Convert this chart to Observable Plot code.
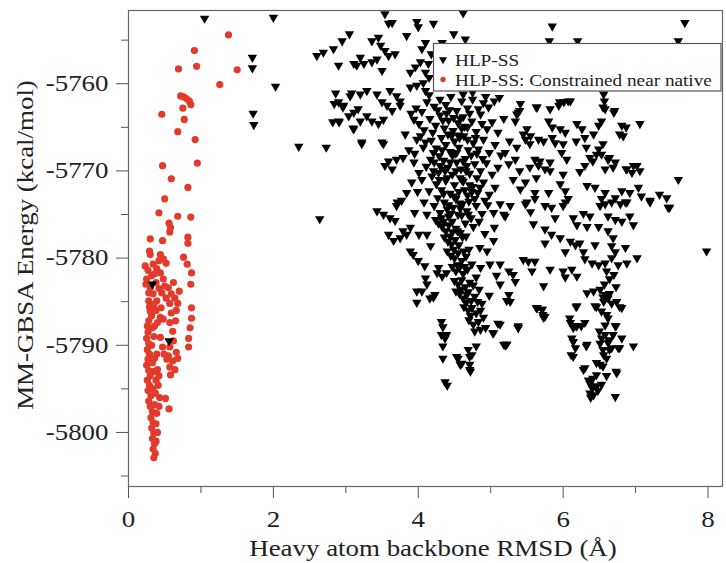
<!DOCTYPE html>
<html><head><meta charset="utf-8">
<script src="https://cdn.jsdelivr.net/npm/d3@7"></script>
<script src="https://cdn.jsdelivr.net/npm/@observablehq/plot@0.6"></script>
<style>body{margin:0;background:#fff} #chart{position:relative;width:726px;height:563px}</style>
</head><body><div id="chart"></div>
<script>
const seriesNames = ["HLP-SS", "HLP-SS: Constrained near native"];
const xLabel = "Heavy atom backbone RMSD (Å)";
const yLabel = "MM-GBSA Energy (kcal/mol)";
const xTicks = [0, 2, 4, 6, 8];
const xMinor = [1, 3, 5, 7];
const yTicks = [-5760, -5770, -5780, -5790, -5800];
const yMinor = [-5755, -5765, -5775, -5785, -5795, -5805];

// HLP-SS: [RMSD, energy]
const hlpSS = [
[1.05,-5752.5],[2.0,-5752.4],[1.71,-5757.0],[1.71,-5758.2],[2.03,-5760.3],[1.72,-5763.4],[1.73,-5764.7],[2.35,-5767.2],[2.73,-5767.3],[2.64,-5775.5],
[2.60,-5756.8],[2.69,-5756.4],[2.83,-5756.0],[2.95,-5755.1],[3.05,-5754.3],[2.90,-5757.9],[3.15,-5757.9],[3.20,-5757.0],
[2.86,-5761.1],[3.08,-5761.1],[2.84,-5762.3],[2.96,-5762.7],[3.04,-5763.7],[3.17,-5762.9],[2.82,-5764.4],[2.91,-5764.4],[3.10,-5765.1],[3.22,-5766.9],
[0.33,-5783.0],[0.56,-5789.5],
[3.54,-5752.0],[3.59,-5753.1],[3.64,-5753.0],[3.98,-5752.9],[4.00,-5753.5],[4.21,-5753.1],[4.62,-5751.9],
[3.84,-5754.5],[4.05,-5756.0],[4.10,-5755.3],[4.33,-5755.3],[4.49,-5754.3],[4.65,-5754.9],[4.69,-5755.8],
[3.36,-5755.1],[3.45,-5754.7],[3.48,-5755.6],[3.54,-5756.2],[3.59,-5756.8],[3.68,-5756.6],
[3.25,-5757.7],[3.36,-5757.5],[3.43,-5757.2],[3.50,-5758.5],[3.11,-5757.7],
[3.89,-5758.7],[3.96,-5758.1],[4.03,-5757.5],[4.10,-5758.7],[4.14,-5757.7],[4.15,-5759.3],[4.18,-5756.6],
[3.89,-5760.4],[3.98,-5760.2],[4.07,-5759.9],[4.10,-5760.8],[4.12,-5762.1],
[2.90,-5762.1],[2.97,-5762.5],[3.06,-5761.4],[3.11,-5763.3],[3.20,-5761.2],[3.29,-5760.8],[3.43,-5761.2],[3.50,-5762.1],[3.57,-5762.5],[3.61,-5760.8],[3.70,-5761.4],[3.75,-5762.0],
[2.90,-5764.3],[3.11,-5765.2],[3.20,-5764.3],[3.29,-5763.7],[3.36,-5764.3],[3.45,-5764.6],[3.52,-5764.1],[3.64,-5763.1],[3.75,-5762.5],
[3.22,-5766.7],[3.50,-5766.7],[3.82,-5765.8],[3.94,-5764.1],[4.01,-5764.6],[4.03,-5766.0],[4.10,-5766.7],[3.98,-5766.4],
[3.59,-5768.9],[3.64,-5769.8],[3.70,-5768.7],[3.54,-5769.4],[3.79,-5768.5],[3.52,-5766.9],[4.07,-5767.3],
[3.94,-5769.0],[4.01,-5770.2],[4.05,-5771.0],[4.17,-5768.7],[4.21,-5770.0],[4.30,-5769.4],
[3.71,-5773.6],[3.84,-5772.5],[3.91,-5771.3],
[3.43,-5774.6],[3.52,-5775.0],[3.61,-5775.4],[3.70,-5774.0],[3.77,-5773.4],[3.68,-5775.7],
[3.59,-5777.3],[3.66,-5778.0],[3.75,-5777.7],[3.79,-5776.9],[3.89,-5776.5],[3.93,-5779.6],[4.00,-5780.3],[4.09,-5780.9],[4.28,-5781.1],[4.39,-5781.7],
[3.84,-5777.3],[3.89,-5779.2],[4.01,-5777.3],[4.12,-5777.3],[4.17,-5778.6],
[4.10,-5782.3],[4.12,-5783.0],[3.98,-5783.8],[4.05,-5783.8],[3.98,-5785.1],[4.21,-5784.5],[4.26,-5781.7],[4.33,-5782.1],[4.16,-5784.6],[4.23,-5784.2],
[4.32,-5787.3],[4.34,-5787.9],[4.32,-5788.8],[4.37,-5789.2],[4.34,-5790.1],[4.34,-5791.5],[4.55,-5791.5],[4.60,-5792.1],[4.69,-5790.5],[4.71,-5791.3],[4.71,-5792.2],[4.71,-5792.8],[4.80,-5790.1],[4.37,-5794.2],[4.40,-5794.6],[4.58,-5792.2],[4.53,-5791.3],[4.74,-5791.1],[4.72,-5793.0],[4.39,-5788.8],
[5.03,-5788.6],[5.10,-5787.5],[5.20,-5790.0],[5.38,-5787.8],[5.63,-5785.7],[5.72,-5786.5],[5.75,-5786.7],[5.22,-5789.9],[5.38,-5788.0],[5.64,-5785.7],[5.71,-5785.9],[5.73,-5786.8],[5.13,-5787.6],
[4.28,-5776.0],[4.33,-5776.4],[4.38,-5776.9],[4.42,-5776.2],[4.47,-5777.0],[4.52,-5776.6],[4.36,-5777.6],[4.41,-5778.1],[4.46,-5778.4],[4.51,-5777.9],[4.56,-5778.5],[4.61,-5777.6],
[4.40,-5779.2],[4.45,-5779.7],[4.50,-5780.0],[4.55,-5779.4],[4.60,-5780.3],[4.66,-5779.8],[4.47,-5781.0],[4.52,-5781.5],[4.57,-5781.1],[4.62,-5781.8],[4.68,-5781.3],
[4.50,-5782.6],[4.55,-5783.0],[4.60,-5782.5],[4.65,-5783.3],[4.71,-5782.8],[4.57,-5784.1],[4.62,-5784.6],[4.67,-5784.2],[4.73,-5784.9],[4.78,-5784.4],
[4.63,-5785.6],[4.69,-5786.0],[4.74,-5785.7],[4.80,-5786.3],[4.70,-5787.1],[4.76,-5787.6],[4.83,-5787.3],[4.78,-5788.4],[4.86,-5788.2],[4.90,-5786.8],[4.88,-5785.2],[4.84,-5783.6],[4.80,-5782.2],[4.74,-5780.7],[4.70,-5779.0],[4.66,-5777.5],
[4.44,-5777.5],[4.49,-5779.0],[4.54,-5780.8],[4.59,-5783.6],[4.64,-5781.0],[4.69,-5783.9],[4.76,-5783.1],[4.82,-5785.0],[4.66,-5785.1],[4.72,-5786.6],[4.86,-5786.0],[4.93,-5788.0],[4.58,-5777.1],[4.63,-5779.2],[4.52,-5783.8],
[5.04,-5778.0],[5.18,-5775.0],[5.13,-5773.8],[4.99,-5780.7],[4.86,-5781.1],[5.13,-5780.7],[5.22,-5784.9],[5.13,-5783.0],[5.04,-5788.6],[5.18,-5789.9],[4.95,-5779.2],[5.08,-5782.0],[4.98,-5784.3],[5.25,-5781.5],[5.05,-5776.5],[4.92,-5777.2],[4.85,-5778.8],
[4.15,-5761.3],[4.22,-5762.6],[4.30,-5761.8],[4.38,-5762.4],[4.45,-5761.5],[4.53,-5763.1],[4.60,-5762.0],[4.68,-5762.8],[4.75,-5761.8],[4.83,-5762.9],[4.90,-5762.2],[4.97,-5762.7],[5.05,-5762.0],[5.12,-5761.6],
[4.16,-5764.0],[4.24,-5764.8],[4.30,-5763.6],[4.36,-5765.1],[4.42,-5764.2],[4.48,-5765.4],[4.55,-5764.5],[4.62,-5763.8],[4.68,-5765.0],[4.74,-5764.3],[4.80,-5765.5],[4.88,-5764.6],[4.95,-5765.2],[5.02,-5764.4],[5.10,-5765.6],[5.18,-5764.0],
[4.18,-5766.5],[4.25,-5767.4],[4.32,-5766.2],[4.38,-5767.0],[4.44,-5767.8],[4.50,-5766.6],[4.56,-5767.3],[4.63,-5766.0],[4.69,-5767.6],[4.76,-5766.8],[4.83,-5767.5],[4.90,-5766.4],[4.98,-5767.9],[5.06,-5767.0],[5.14,-5768.2],
[4.22,-5769.0],[4.28,-5770.2],[4.35,-5768.8],[4.41,-5769.6],[4.47,-5770.4],[4.53,-5769.0],[4.59,-5769.8],[4.65,-5768.6],[4.71,-5770.3],[4.78,-5769.2],[4.86,-5770.0],[4.94,-5769.1],[5.02,-5770.4],[5.10,-5769.6],
[4.25,-5771.5],[4.32,-5772.2],[4.38,-5771.1],[4.44,-5772.6],[4.50,-5771.6],[4.56,-5772.4],[4.62,-5771.2],[4.68,-5772.8],[4.75,-5771.8],[4.82,-5772.5],[4.90,-5771.3],[4.98,-5772.7],[5.06,-5771.9],[4.15,-5772.3],
[4.22,-5774.0],[4.30,-5774.8],[4.36,-5773.6],[4.42,-5775.2],[4.48,-5774.2],[4.55,-5775.0],[4.61,-5773.8],[4.67,-5774.6],[4.73,-5775.4],[4.80,-5774.0],[4.88,-5774.9],[4.96,-5773.9],[5.04,-5774.8],[4.12,-5775.0],
[4.43,-5763.0],[4.57,-5766.2],[4.47,-5768.2],[4.60,-5771.0],[4.52,-5773.2],[4.65,-5776.0],[4.40,-5770.8],[4.58,-5764.0],[4.35,-5775.8],[4.70,-5773.5],[4.46,-5766.0],[4.62,-5768.9],
[4.62,-5761.2],[4.75,-5761.0],[4.93,-5761.5],
[4.27,-5763.0],[4.34,-5764.2],[4.41,-5765.8],[4.49,-5763.9],[4.56,-5765.9],[4.64,-5764.9],[4.71,-5763.4],[4.79,-5766.2],[4.86,-5763.5],
[4.21,-5767.9],[4.29,-5768.3],[4.37,-5770.0],[4.44,-5769.0],[4.51,-5768.0],[4.58,-5770.8],[4.66,-5770.0],[4.73,-5768.2],[4.81,-5770.8],[4.89,-5768.6],
[4.19,-5770.6],[4.27,-5773.1],[4.35,-5772.6],[4.42,-5773.9],[4.49,-5772.9],[4.57,-5773.7],[4.64,-5772.2],[4.71,-5771.6],[4.78,-5773.2],[4.85,-5771.9],
[4.24,-5775.6],[4.32,-5775.4],[4.40,-5774.4],[4.47,-5775.8],[4.54,-5776.9],[4.60,-5775.1],[4.69,-5775.0],[4.76,-5776.4],[4.84,-5775.8],
[3.97,-5762.8],[4.05,-5763.2],[3.90,-5763.4],[4.08,-5765.3],[3.87,-5767.6],[3.95,-5768.0],[4.11,-5769.5],[3.99,-5772.4],[4.08,-5773.6],[3.95,-5774.8],
[4.20,-5765.6],[4.33,-5767.6],[4.39,-5763.4],[4.53,-5767.9],[4.60,-5765.1],[4.67,-5769.4],[4.74,-5772.4],[4.81,-5768.0],[4.92,-5773.4],[4.29,-5771.0],[4.45,-5774.9],[4.58,-5774.3],[4.36,-5769.8],[4.52,-5770.0],[4.68,-5766.4],
[5.36,-5763.5],[5.40,-5763.1],[5.63,-5762.7],[5.82,-5762.9],[5.95,-5762.1],[6.07,-5762.0],[6.55,-5762.7],[6.57,-5762.0],[6.71,-5763.1],[7.06,-5764.6],
[7.59,-5771.0],[7.20,-5773.4],[7.33,-5772.7],[7.43,-5773.1],[7.47,-5774.2],[7.98,-5779.2],
[5.85,-5753.4],[5.81,-5755.1],[7.68,-5753.0],[7.59,-5755.1],[6.20,-5755.1],[6.56,-5761.2],[6.58,-5762.9],[6.70,-5763.3],
[5.41,-5762.3],[5.38,-5763.3],[5.34,-5764.3],[5.64,-5762.7],[5.94,-5762.5],[6.01,-5762.1],[6.10,-5762.0],
[5.50,-5765.2],[5.48,-5766.4],[5.55,-5766.0],[5.66,-5766.4],[5.73,-5766.6],[5.80,-5764.3],[5.85,-5765.0],[5.85,-5766.2],[5.89,-5766.8],[5.96,-5765.2],[6.03,-5765.6],[6.19,-5764.6],[6.26,-5765.2],[6.30,-5766.2],[6.42,-5765.8],[6.49,-5764.8],[6.53,-5764.3],[6.81,-5764.8],[6.83,-5766.0],
[5.20,-5767.9],[5.34,-5768.7],[5.25,-5769.2],[5.61,-5768.7],[5.66,-5769.4],[5.75,-5769.8],[5.82,-5769.0],[5.98,-5767.9],[6.05,-5768.7],[6.23,-5770.1],[6.30,-5769.4],[6.37,-5768.5],[6.49,-5767.5],[6.53,-5768.1],[6.62,-5768.7],[6.58,-5769.8],[6.72,-5769.0],[6.88,-5769.8],[6.95,-5770.2],[7.02,-5769.4],
[5.31,-5771.0],[5.48,-5771.3],[5.41,-5772.1],[5.61,-5772.5],[5.61,-5773.2],[5.80,-5772.5],[5.96,-5771.5],[6.03,-5772.3],[6.07,-5773.2],[6.33,-5771.7],[6.44,-5771.9],[6.58,-5772.5],[6.53,-5773.2],[6.72,-5773.1],[6.81,-5772.3],[6.86,-5773.6],[6.92,-5772.5],[7.04,-5771.9],[7.08,-5772.9],[7.20,-5773.6],[5.75,-5774.0],[6.00,-5774.0],[5.48,-5773.8],
[5.26,-5766.6],[5.36,-5767.3],[5.45,-5765.8],[5.54,-5766.9],[5.68,-5768.9],[6.00,-5766.9],[6.18,-5766.6],[6.32,-5767.3],[6.46,-5768.1],[6.55,-5766.9],[6.64,-5768.5],[6.78,-5765.8],[6.87,-5765.0],
[5.40,-5770.0],[5.54,-5769.6],[5.63,-5770.8],[5.82,-5770.0],[6.00,-5770.4],[6.41,-5768.9],[6.69,-5769.6],[6.87,-5769.8],[6.97,-5769.4],[7.06,-5770.0],
[5.27,-5774.0],[5.20,-5775.2],[5.50,-5773.6],[5.55,-5774.7],[5.59,-5776.1],[5.84,-5774.2],[5.89,-5775.4],[6.03,-5773.6],[5.75,-5776.7],[5.84,-5777.3],[5.75,-5778.3],[5.96,-5777.7],[6.03,-5779.3],[6.10,-5778.1],[6.17,-5778.5],[6.23,-5778.3],[6.28,-5779.3],[6.30,-5780.1],[6.40,-5780.6],[6.14,-5775.4],[6.19,-5776.2],[6.28,-5774.9],[6.37,-5775.2],[6.33,-5776.4],[6.49,-5776.4],[6.44,-5778.5],[6.51,-5774.0],[6.58,-5773.8],[6.67,-5773.6],[6.79,-5773.8],[6.88,-5773.6],[6.62,-5775.2],[6.72,-5775.6],[6.81,-5775.8],[6.92,-5775.2],[6.97,-5776.2],[6.62,-5776.9],[6.69,-5777.7],[6.67,-5778.6],[6.72,-5779.3],[6.67,-5780.0],[6.76,-5780.8],[6.86,-5778.8],[6.88,-5780.6],[7.02,-5780.0],[6.58,-5780.6],[6.49,-5780.8],[7.45,-5774.2],
[5.45,-5780.2],[5.52,-5780.4],[5.61,-5780.4],[5.57,-5781.5],[5.31,-5781.9],[5.34,-5782.7],[5.82,-5781.3],[6.00,-5781.5],[6.03,-5782.2],[6.12,-5781.3],[6.19,-5782.1],[5.73,-5783.2],[5.25,-5784.2],[5.27,-5785.0],[5.22,-5789.9],[5.38,-5788.0],[5.64,-5785.7],[5.71,-5785.9],[5.73,-5786.8],
[6.33,-5784.0],[6.42,-5783.8],[6.51,-5783.6],[6.58,-5784.2],[6.56,-5785.0],[6.62,-5784.6],[6.67,-5785.2],[6.74,-5785.0],[6.81,-5785.7],[6.19,-5785.5],[6.44,-5785.5],[6.53,-5786.1],[6.60,-5786.5],[6.72,-5787.8],[6.10,-5787.4],[6.14,-5788.0],[6.19,-5787.8],[6.30,-5787.4],
[6.12,-5789.2],[6.17,-5790.3],[6.14,-5791.3],[6.33,-5789.9],[6.53,-5789.2],[6.58,-5788.8],[6.62,-5789.7],[6.67,-5790.3],[6.76,-5790.3],[6.81,-5789.2],[6.97,-5790.1],[6.56,-5791.1],[6.60,-5791.5],[6.51,-5792.2],[6.46,-5793.4],[6.30,-5792.6],[6.35,-5794.0],[6.40,-5794.9],[6.46,-5794.7],[6.53,-5794.5],[6.42,-5795.7],[6.72,-5795.9],[6.74,-5793.2],
[6.09,-5786.9],[6.18,-5787.8],[6.25,-5787.8],[6.14,-5789.6],[6.32,-5790.1],[6.11,-5791.1],[6.18,-5785.6],[6.28,-5792.8],[6.37,-5794.4],[6.41,-5793.8],[6.37,-5795.5],[6.46,-5794.7],[6.73,-5793.0],[6.55,-5792.4],[6.46,-5792.0],[6.55,-5790.5],[6.64,-5790.5],[6.78,-5790.3],[6.73,-5787.8],[6.69,-5788.8],[6.64,-5789.4],[6.51,-5789.8],[6.46,-5785.6],[6.55,-5784.5],[6.64,-5784.1],[6.78,-5785.6],[6.73,-5783.3],
[6.60,-5781.5],[6.64,-5782.4],[6.70,-5781.9],[6.57,-5783.0],[6.62,-5786.9],[6.58,-5787.7],[6.50,-5788.4],[6.60,-5793.5],[6.48,-5795.2],[6.38,-5796.0]
];

// HLP-SS: Constrained near native: [RMSD, energy]
const constrained = [
[1.38,-5754.4],[0.91,-5756.2],[0.69,-5758.3],[0.94,-5758.0],[1.50,-5758.4],[1.26,-5760.1],
[0.72,-5761.4],[0.76,-5761.5],[0.80,-5761.7],[0.84,-5762.0],[0.86,-5762.4],[0.75,-5762.8],
[0.46,-5763.5],[0.77,-5764.1],[0.68,-5765.5],[0.92,-5766.4],[0.95,-5769.1],[0.47,-5769.4],
[0.59,-5770.9],[0.82,-5771.9],[0.50,-5773.2],[0.42,-5774.8],[0.68,-5775.2],[0.86,-5775.3],
[0.56,-5776.0],[0.58,-5776.5],[0.30,-5777.8],[0.47,-5778.0],[0.57,-5777.0],[0.82,-5777.6],[0.82,-5778.3],
[0.29,-5779.2],[0.30,-5779.6],[0.44,-5779.6],[0.48,-5780.1],[0.52,-5780.6],[0.76,-5779.9],[0.81,-5780.7],[0.23,-5780.9],[0.34,-5780.7],[0.39,-5781.2],[0.44,-5781.7],[0.42,-5780.3],[0.36,-5781.8],[0.87,-5781.7],
[0.25,-5782.4],[0.30,-5783.4],[0.28,-5784.0],[0.86,-5783.0],[0.55,-5783.4],[0.59,-5784.1],[0.52,-5784.6],[0.57,-5785.2],[0.34,-5784.1],[0.39,-5784.9],[0.45,-5785.7],[0.44,-5786.8],[0.48,-5787.0],
[0.28,-5784.9],[0.30,-5786.1],[0.28,-5787.2],[0.87,-5785.7],[0.87,-5786.9],[0.85,-5788.0],[0.83,-5789.2],[0.83,-5790.2],[0.59,-5786.3],[0.57,-5787.4],[0.61,-5788.4],
[0.44,-5789.1],[0.47,-5790.2],[0.39,-5791.0],[0.57,-5790.2],[0.55,-5791.2],[0.61,-5791.8],[0.57,-5792.5],[0.49,-5791.0],[0.53,-5791.6],[0.51,-5796.1],[0.56,-5797.3],
[0.26,-5787.8],[0.27,-5788.5],[0.25,-5789.2],[0.28,-5789.8],[0.26,-5790.5],[0.29,-5791.0],[0.27,-5791.6],[0.25,-5792.3],[0.28,-5792.9],[0.30,-5793.5],[0.26,-5794.0],[0.29,-5794.6],[0.27,-5795.2],[0.31,-5795.8],[0.28,-5796.4],[0.30,-5797.0],[0.33,-5797.6],[0.31,-5798.3],[0.34,-5798.9],[0.32,-5799.5],[0.35,-5800.1],[0.33,-5800.7],[0.36,-5801.3],[0.34,-5801.9],[0.37,-5802.4],[0.35,-5802.9],
[0.33,-5788.0],[0.35,-5789.0],[0.32,-5790.0],[0.36,-5791.5],[0.33,-5792.0],[0.35,-5793.0],[0.38,-5794.0],[0.34,-5795.0],[0.37,-5795.5],[0.36,-5796.8],[0.39,-5797.8],[0.38,-5799.0],[0.40,-5800.0],[0.38,-5801.0],
[0.40,-5792.8],[0.42,-5793.5],[0.41,-5794.6],[0.43,-5796.0],[0.42,-5797.0],
[0.29,-5785.6],[0.32,-5786.6],[0.35,-5785.3],[0.38,-5786.0],[0.40,-5787.4],[0.36,-5787.8],
[0.48,-5782.4],[0.50,-5783.2],[0.46,-5784.0],[0.62,-5782.8],[0.64,-5784.6],[0.66,-5786.0],[0.65,-5787.2],[0.68,-5785.2],[0.70,-5783.8],[0.62,-5789.5],[0.66,-5790.8],[0.68,-5791.5],[0.64,-5792.8],[0.58,-5793.4],
[0.27,-5781.4],[0.32,-5782.0],[0.38,-5782.8],[0.42,-5783.5],[0.24,-5783.0]
];

const RED = "#e23b2c";
const FONT = "'Liberation Serif','Times New Roman',serif";
const triDown = {draw(ctx, size) {
  const y = Math.sqrt(size / (Math.sqrt(3) * 3));
  ctx.moveTo(0, 2 * y);
  ctx.lineTo(-Math.sqrt(3) * y, -y);
  ctx.lineTo(Math.sqrt(3) * y, -y);
  ctx.closePath();
}};

const plot = Plot.plot({
  width: 726, height: 563,
  marginLeft: 128, marginRight: 4, marginTop: 10, marginBottom: 77,
  style: {fontFamily: FONT, fontSize: "23px", color: "#222", background: "#fff"},
  x: {domain: [0, 8.2]},
  y: {domain: [-5806.2, -5751.6]},
  marks: [
    Plot.axisX({ticks: xTicks, tickSize: 12, tickPadding: 12, tickFormat: d => String(d), stroke: "#555", label: null}),
    Plot.axisX({ticks: xMinor, tickSize: 7, text: null, stroke: "#555", label: null}),
    Plot.axisY({ticks: yTicks, tickSize: 12, tickPadding: 8, tickFormat: d => String(d), stroke: "#555", label: null}),
    Plot.axisY({ticks: yMinor, tickSize: 7, text: null, stroke: "#555", label: null}),
    Plot.dot(constrained, {x: d => d[0], y: d => d[1], r: 3.6, fill: RED, stroke: "none"}),
    Plot.dot(hlpSS, {x: d => d[0], y: d => d[1], symbol: triDown, r: 3.5, fill: "#000", stroke: "none"}),
    Plot.frame({stroke: "#666", strokeWidth: 1.2})
  ]
});
document.getElementById("chart").appendChild(plot);

const svg = d3.select(plot);
const fx = plot.scale("x"), fy = plot.scale("y");
const cx = (fx.range[0] + fx.range[1]) / 2;
const cy = (fy.range[0] + fy.range[1]) / 2;

// axis titles
const titles = svg.append("g").attr("font-family", FONT).attr("font-size", 23).attr("fill", "#222").attr("text-anchor", "middle");
titles.append("text").attr("x", cx + 8).attr("y", fy.range[0] + 70).text(xLabel);
titles.append("text").attr("transform", `translate(${fx.range[0] - 103},${cy - 3}) rotate(-90)`).attr("dy", "0.35em").text(yLabel);

// legend inside the frame
const lg = svg.append("g").attr("font-family", FONT).attr("font-size", 17.5).attr("fill", "#222").attr("text-anchor", "start");
lg.append("rect").attr("x", 433.5).attr("y", 43.5).attr("width", 287.5).attr("height", 47.5).attr("fill", "#fff").attr("stroke", "#555").attr("stroke-width", 1.2);
lg.append("path").attr("d", d3.symbol(triDown, 28)()).attr("transform", "translate(443,59.5)").attr("fill", "#000");
lg.append("circle").attr("cx", 443).attr("cy", 79.5).attr("r", 2.7).attr("fill", RED);
lg.append("text").attr("class", "lgt").attr("x", 455).attr("y", 59.5).attr("dy", "0.35em").text(seriesNames[0]);
lg.append("text").attr("class", "lgt").attr("x", 455).attr("y", 79.5).attr("dy", "0.35em").text(seriesNames[1]);

// widen glyphs about each text's own anchor, as in the reference's horizontally stretched type
svg.selectAll("text").each(function() {
  const f = this.classList.contains("lgt") ? 1.1 : 1.17;
  const x = parseFloat(this.getAttribute("x")) || 0;
  const y = parseFloat(this.getAttribute("y")) || 0;
  const t = this.getAttribute("transform") || "";
  this.setAttribute("transform", `${t} translate(${x},${y}) scale(${f},1) translate(${-x},${-y})`);
});
</script>
</body></html>
